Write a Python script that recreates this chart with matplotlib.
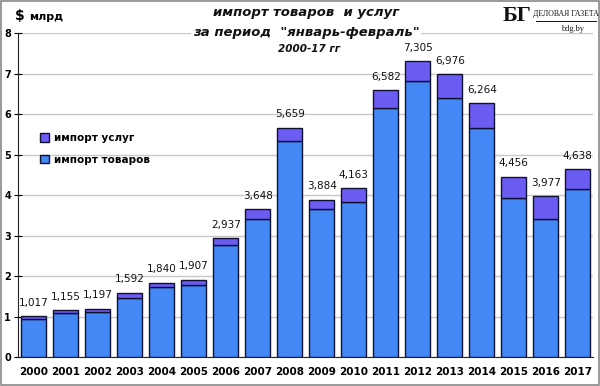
import matplotlib
matplotlib.use("Agg")
import matplotlib.pyplot as plt
import numpy as np
from matplotlib.patches import Rectangle, Patch

years = ["2000", "2001", "2002", "2003", "2004", "2005", "2006", "2007", "2008",
         "2009", "2010", "2011", "2012", "2013", "2014", "2015", "2016", "2017"]
total = [1.017, 1.155, 1.197, 1.592, 1.840, 1.907, 2.937, 3.648, 5.659,
         3.884, 4.163, 6.582, 7.305, 6.976, 6.264, 4.456, 3.977, 4.638]
goods = [0.945, 1.08, 1.10, 1.47, 1.72, 1.77, 2.77, 3.40, 5.33,
         3.65, 3.83, 6.14, 6.81, 6.39, 5.65, 3.92, 3.40, 4.14]
services = [t - g for t, g in zip(total, goods)]
labels = [f"{t:.3f}".replace(".", ",") for t in total]
yticks = [0, 1, 2, 3, 4, 5, 6, 7, 8]

c_goods = "#4488F6"
c_serv = "#6B5DF2"
edge = "#101030"

plt.rcParams['font.family'] = ['DejaVu Sans']
fig = plt.figure(figsize=(6, 3.86), dpi=100)
ax = fig.add_axes([0.03, 0.075, 0.958, 0.8395])

x = np.arange(len(years))
ax.bar(x, goods, width=0.78, color=c_goods, edgecolor=edge, linewidth=1.0, zorder=3)
ax.bar(x, services, width=0.78, bottom=goods, color=c_serv, edgecolor=edge, linewidth=1.0, zorder=3)

for xi, t, lab in zip(x, total, labels):
    ax.annotate(lab, (xi, t), xytext=(0, 6), textcoords="offset points",
                ha="center", va="bottom", fontsize=7.5, color="#111111")

ax.set_xlim(-0.49, 17.47)
ax.set_ylim(0, 8)
ax.set_yticks(yticks)
ax.set_yticklabels([str(v) for v in yticks], fontsize=7, fontweight="bold")
ax.set_xticks(x)
ax.set_xticklabels(years, fontsize=7.5, fontweight="bold")
ax.tick_params(axis="x", length=0, pad=7)
ax.tick_params(axis="y", direction="inout", length=6, pad=2, width=0.8)
ax.yaxis.grid(True, color="#c8c8c8", linewidth=1.0, zorder=0)
ax.set_axisbelow(True)
for s in ["top", "right"]:
    ax.spines[s].set_visible(False)
ax.spines["left"].set_color("#222222")
ax.spines["bottom"].set_color("#222222")

# legend
handles = [Patch(facecolor=c_serv, edgecolor=edge, label="импорт услуг"),
           Patch(facecolor=c_goods, edgecolor=edge, label="импорт товаров")]
ax.legend(handles=handles, loc="upper left", bbox_to_anchor=(0.022, 0.72),
          frameon=False, prop={"weight": "bold", "size": 7.5},
          handlelength=0.9, handleheight=0.9, handletextpad=0.4, labelspacing=1.1)

# titles
bbox = dict(facecolor="white", edgecolor="none", pad=1)
fig.text(0.51, 0.967, "импорт товаров  и услуг", ha="center", va="center",
         fontsize=9.5, fontweight="bold", style="italic", color="#111111")
fig.text(0.51, 0.915, "за период  \"январь-февраль\"", ha="center", va="center",
         fontsize=9.5, fontweight="bold", style="italic", color="#111111", bbox=bbox)
fig.text(0.515, 0.873, "2000-17 гг", ha="center", va="center",
         fontsize=7.5, fontweight="bold", style="italic", color="#111111")
fig.text(0.025, 0.958, "$", ha="left", va="center", fontsize=10, fontweight="bold")
fig.text(0.048, 0.955, "млрд", ha="left", va="center", fontsize=8, fontweight="bold")

# logo
fig.text(0.862, 0.958, "БГ", ha="center", va="center", fontsize=16, fontweight="bold",
         family="Liberation Serif", color="#111111")
fig.text(0.943, 0.963, "ДЕЛОВАЯ ГАЗЕТА", ha="center", va="center", fontsize=5.6,
         family="Liberation Serif", color="#111111")
fig.add_artist(plt.Line2D([0.893, 0.993], [0.946, 0.946], transform=fig.transFigure,
                          color="#111111", linewidth=0.7))
fig.text(0.955, 0.925, "bdg.by", ha="center", va="center", fontsize=6,
         family="Liberation Serif", color="#111111")

# border
fig.add_artist(Rectangle((0.001, 0.002), 0.997, 0.995, transform=fig.transFigure,
                         fill=False, edgecolor="#888888", linewidth=1.2))

fig.savefig("out.png", dpi=100)
